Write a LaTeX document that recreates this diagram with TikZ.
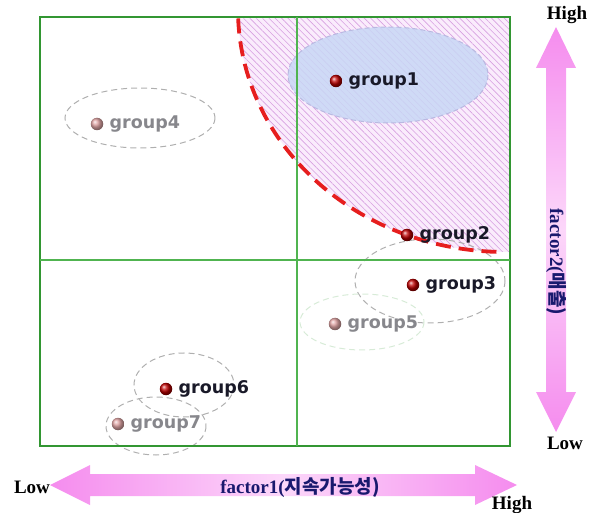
\documentclass[tikz,border=0pt]{standalone}
\usepackage{fontspec}
\setmainfont{Liberation Serif}
\newfontfamily\grpfont{DejaVu Sans}
\newfontfamily\krfont{Noto Sans CJK KR}
\usetikzlibrary{patterns.meta}
\definecolor{sqgreen}{RGB}{50,150,50}
\definecolor{midgreen}{RGB}{80,180,80}
\definecolor{hatchfill}{RGB}{250,236,252}
\definecolor{hatchline}{RGB}{215,160,225}
\definecolor{bluefill}{RGB}{200,215,245}
\definecolor{blueedge}{RGB}{185,185,225}
\definecolor{redline}{RGB}{230,30,30}
\definecolor{arrowend}{RGB}{245,140,238}
\definecolor{arrowmid}{RGB}{252,215,250}
\definecolor{navy}{RGB}{25,25,110}
\definecolor{labdark}{RGB}{25,25,40}
\definecolor{labgray}{RGB}{135,135,140}
\definecolor{ellgray}{RGB}{175,175,175}
\definecolor{ellgreen}{RGB}{215,235,215}
\definecolor{fadedot}{RGB}{215,140,140}
\begin{document}
\begin{tikzpicture}[x=1pt,y=-1pt,
  dotdark/.style={circle,inner sep=0pt,minimum size=12.5pt,shading=ball,ball color=red!75!black},
  dotfade/.style={circle,inner sep=0pt,minimum size=12.5pt,shading=ball,ball color=fadedot,opacity=0.85},
  labd/.style={anchor=west,inner sep=0pt,text=labdark,font=\grpfont\bfseries\fontsize{17.5}{20}\selectfont},
  labg/.style={anchor=west,inner sep=0pt,text=labgray,font=\grpfont\bfseries\fontsize{17.5}{20}\selectfont},
  grpell/.style={draw=ellgray,line width=1pt,dash pattern=on 6pt off 4pt},
  axlab/.style={inner sep=0pt,text=black,font=\bfseries\fontsize{19}{22}\selectfont},
  factlab/.style={inner sep=0pt,text=navy,font=\bfseries\fontsize{19}{22}\selectfont}]
\useasboundingbox (0,0) rectangle (595,513);
% hatched region
\fill[hatchfill] plot[domain=178:91,samples=80] ({505+267*cos(\x)},{10+242*sin(\x)}) -- (510,252) -- (510,17) -- cycle;
\fill[pattern={Lines[angle=-45,distance=4.5pt,line width=0.6pt]},pattern color=hatchline]
  plot[domain=178:91,samples=80] ({505+267*cos(\x)},{10+242*sin(\x)}) -- (510,252) -- (510,17) -- cycle;
% blue ellipse
\draw[fill=bluefill,fill opacity=0.85,draw=blueedge,line width=1pt,dash pattern=on 5pt off 3pt] (388,75) ellipse [x radius=100,y radius=48];
% group ellipses
\draw[grpell] (140,118) ellipse [x radius=75,y radius=30];
\draw[grpell] (430,281) ellipse [x radius=75,y radius=42];
\draw[draw=ellgreen,line width=1pt,dash pattern=on 6pt off 4pt] (362,322) ellipse [x radius=62,y radius=28];
\draw[grpell] (184,385) ellipse [x radius=50,y radius=32];
\draw[grpell] (156,426) ellipse [x radius=50,y radius=29];
% square and midlines
\draw[sqgreen,line width=1.5pt] (40,17) rectangle (510,446);
\draw[midgreen,line width=1.5pt] (297,17) -- (297,446);
\draw[midgreen,line width=1.5pt] (40,260) -- (510,260);
% red dashed boundary
\draw[redline,line width=3.8pt,dash pattern=on 15pt off 8pt] plot[domain=178:91,samples=80] ({505+267*cos(\x)},{10+242*sin(\x)});
% dots and labels
\node[dotdark] (g1) at (336,81) {};
\node[labd] (l1) at ([xshift=6pt]g1.east) {group1};
\node[dotdark] (g2) at (407,235) {};
\node[labd] (l2) at ([xshift=6pt]g2.east) {group2};
\node[dotdark] (g3) at (413,285) {};
\node[labd] (l3) at ([xshift=6pt]g3.east) {group3};
\node[dotfade] (g4) at (97,124) {};
\node[labg] (l4) at ([xshift=6pt]g4.east) {group4};
\node[dotfade] (g5) at (335,324) {};
\node[labg] (l5) at ([xshift=6pt]g5.east) {group5};
\node[dotdark] (g6) at (166,389) {};
\node[labd] (l6) at ([xshift=6pt]g6.east) {group6};
\node[dotfade] (g7) at (118,424) {};
\node[labg] (l7) at ([xshift=6pt]g7.east) {group7};
% horizontal arrow
\shade[left color=arrowend,right color=arrowend,middle color=arrowmid]
  (50,485) -- (90,465) -- (90,474) -- (475,474) -- (475,465) -- (517,485) -- (475,505) -- (475,496) -- (90,496) -- (90,505) -- cycle;
% vertical arrow
\shade[top color=arrowend,bottom color=arrowend,middle color=arrowmid]
  (556,27) -- (576,68) -- (566,68) -- (566,392) -- (576,392) -- (556,432) -- (536,392) -- (546,392) -- (546,68) -- (536,68) -- cycle;
% axis texts
\node[axlab] (hx) at (32,487) {Low};
\node[axlab] (hh) at (512,505) {High};
\node[axlab] (vh) at (567,15) {High};
\node[axlab] (vl) at (565,443) {Low};
\node[factlab] (f1) at (300,487) {factor1(\krfont\bfseries 지속가능성)};
\node[factlab,rotate=-90] (f2) at (556,262) {factor2(\krfont\bfseries 매출)};
\end{tikzpicture}
\end{document}
